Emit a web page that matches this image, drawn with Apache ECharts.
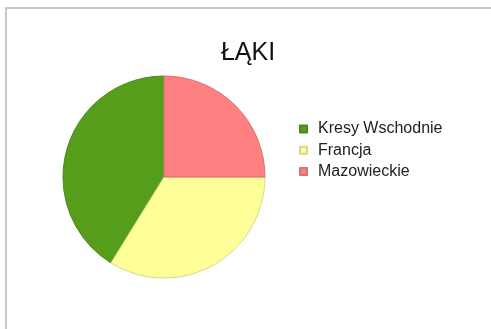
<!DOCTYPE html>
<html>
<head>
<meta charset="utf-8">
<script src="https://cdn.jsdelivr.net/npm/echarts@6/dist/echarts.min.js"></script>
<style>
  html, body { margin: 0; padding: 0; background: #ffffff; }
  #chart { width: 491px; height: 329px; }
</style>
</head>
<body>
<div id="chart"></div>
<script>
// Udział łąk według regionu (w procentach)
const categories = ['Kresy Wschodnie', 'Francja', 'Mazowieckie'];
const values = [41.2, 33.8, 25.0];
const colors = ['#579d1c', '#ffff99', '#ff8080'];
const edgeColors = ['#4b8a18', '#d8d88c', '#d87272'];

const chart = echarts.init(document.getElementById('chart'), null, { renderer: 'canvas' });

chart.setOption({
  backgroundColor: '#ffffff',
  animation: false,
  title: {
    text: 'ŁĄKI',
    left: 243,
    top: 36,
    textAlign: 'center',
    textStyle: {
      fontFamily: 'Liberation Sans',
      fontSize: 25,
      fontWeight: 'normal',
      color: '#111111'
    }
  },
  legend: {
    orient: 'vertical',
    left: 294,
    top: 116,
    itemWidth: 7,
    itemHeight: 7,
    itemGap: 5.3,
    icon: 'rect',
    selectedMode: false,
    textStyle: {
      fontFamily: 'Liberation Sans',
      fontSize: 16,
      lineHeight: 16,
      color: '#222222',
      padding: [0, 0, 0, 6]
    },
    data: categories
  },
  graphic: [
    {
      type: 'polyline',
      shape: { points: [[6, 329], [6, 8], [491, 8]] },
      style: { stroke: '#c9c9c9', lineWidth: 2, fill: null }
    }
  ],
  series: [
    {
      type: 'pie',
      center: [164, 177],
      radius: 101,
      startAngle: 90,
      clockwise: false,
      label: { show: false },
      labelLine: { show: false },
      emphasis: { disabled: true },
      data: categories.map((name, i) => ({
        name: name,
        value: values[i],
        itemStyle: { color: colors[i], borderColor: edgeColors[i], borderWidth: 1 }
      }))
    }
  ]
});
</script>
</body>
</html>
